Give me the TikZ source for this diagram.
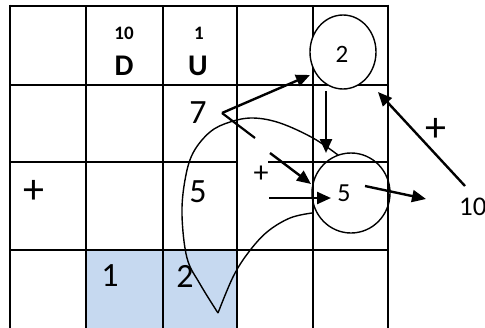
\documentclass[tikz,border=0pt]{standalone}
\usepackage{fontspec}
\setmainfont{Carlito}
\usetikzlibrary{arrows.meta}
\definecolor{cellblue}{RGB}{198,217,240}
\begin{document}
\begin{tikzpicture}[x=1pt,y=-1pt,
  grid/.style={line width=2.6pt},
  thinline/.style={line width=1.2pt},
  arr/.style={line width=2.4pt,-{Triangle[length=14pt,width=12pt]}},
  plainline/.style={line width=2.2pt},
  loopline/.style={line width=1.4pt},
  txt/.style={inner sep=0pt,font=\fontsize{#1}{#1}\selectfont},
  btxt/.style={inner sep=0pt,font=\bfseries\fontsize{#1}{#1}\selectfont}]
\useasboundingbox (0,0) rectangle (485,327);
\fill[white] (0,0) rectangle (485,327);
% blue cells
\fill[cellblue] (86,250) rectangle (237,330);
% grid horizontals
\draw[grid] (10,6) -- (388,6);
\draw[grid] (10,85) -- (388,85);
\draw[grid] (10,162) -- (238,162);
\draw[grid] (268,162) -- (388,162);
\draw[grid] (10,250) -- (388,250);
% grid verticals
\draw[grid] (10,4.7) -- (10,330);
\draw[grid] (86,6) -- (86,330);
\draw[grid] (163,6) -- (163,330);
\draw[grid] (237,6) -- (237,140);
\draw[thinline] (237,140) -- (237,217);
\draw[grid] (237,217) -- (237,330);
\draw[grid] (313,6) -- (313,330);
\draw[grid] (388,4.7) -- (388,330);
% header texts
\node[btxt=19] (t10) at (124,33) {10};
\node[btxt=30] (tD) at (124,66) {D};
\node[btxt=19] (t1) at (199,33) {1};
\node[btxt=30] (tU) at (198,66) {U};
% circles
\draw[line width=1.4pt,fill=white] (343,52) ellipse [x radius=33, y radius=37];
\node[txt=25] (c2) at (342,54) {2};
\draw[line width=1.4pt] (351,193) ellipse [x radius=39, y radius=40];
\node[txt=26] (c5) at (344,193) {5};
% numbers
\node[txt=34] (n7) at (198,113) {7};
\node[txt=34] (n5) at (198,192) {5};
\node[txt=42] (p1) at (34,192) {+};
\node[txt=34] (b1) at (110,276) {1};
\node[txt=34] (b2) at (185,276) {2};
\node[txt=27,anchor=west] (r10) at (459,206.5) {10};
\node[txt=42] (p2) at (436,130) {+};
\node[txt=30] (p3) at (261,174) {+};
% coordinates
\coordinate (v7) at (222,113);
\coordinate (a1) at (310,75);
\coordinate (l1) at (255,138);
\coordinate (s3) at (270,153);
\coordinate (e3) at (311,184);
\coordinate (s4) at (269,198);
\coordinate (e4) at (331,198);
\coordinate (s5) at (326,91);
\coordinate (e5) at (326,153);
\coordinate (s6) at (465,186);
\coordinate (e6) at (378,92);
\coordinate (s7) at (365,186);
\coordinate (e7) at (426,199);
% arrows
\draw[arr] (v7) -- (a1);
\draw[plainline] (v7) -- (l1);
\draw[arr] (s3) -- (e3);
\draw[arr] (s4) -- (e4);
\draw[arr] (s5) -- (e5);
\draw[arr] (s6) -- (e6);
\draw[arr] (s7) -- (e7);
% loop
\draw[loopline] plot[smooth,tension=0.6] coordinates {(338,155) (313,138) (280,123) (253,118) (230,122) (210,132) (193,153) (185,180) (182,215) (187,258) (200,284) (218,313)};
\draw[loopline] plot[smooth,tension=0.6] coordinates {(218,313) (233,277) (248,253) (267,232) (290,218) (312,213)};
\end{tikzpicture}
\end{document}
